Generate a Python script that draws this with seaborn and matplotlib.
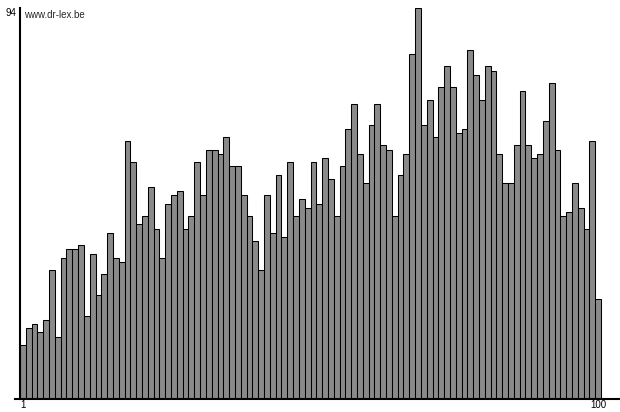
import matplotlib
matplotlib.use("Agg")
import matplotlib.pyplot as plt
import pandas as pd
import seaborn as sns

# bar heights, left to right (100 bars)
values = [13, 17, 18, 16, 19, 31, 15, 34, 36, 36,
          37, 20, 35, 25, 30, 40, 34, 33, 62, 57,
          42, 44, 51, 41, 34, 47, 49, 50, 41, 44,
          57, 49, 60, 60, 59, 63, 56, 56, 49, 44,
          38, 31, 49, 40, 54, 39, 57, 44, 48, 46,
          57, 47, 58, 53, 44, 56, 65, 71, 59, 52,
          66, 71, 61, 60, 44, 54, 59, 83, 94, 66,
          72, 63, 75, 80, 75, 64, 65, 84, 78, 72,
          80, 79, 59, 52, 52, 61, 74, 61, 58, 59,
          67, 76, 60, 44, 45, 52, 46, 41, 62, 24]
categories = [str(i) for i in range(1, len(values) + 1)]
x_tick_labels = ["1", "100"]
y_max = 94
watermark = "www.dr-lex.be"

sns.set_style("white")
plt.rcParams["font.family"] = ["Liberation Sans", "DejaVu Sans"]

df = pd.DataFrame({"n": categories, "count": values})

W, H = 620, 412
fig = plt.figure(figsize=(W / 100, H / 100), dpi=100)
# axes placed in pixels: left 15, right 620, baseline at y=399, top at y=8
ax = fig.add_axes([15 / W, (H - 399) / H, (W - 15) / W, (399 - 8.3) / H])

sns.barplot(data=df, x="n", y="count", color="#8a8a8a", saturation=1,
            width=1.0, edgecolor="black", linewidth=0.75, ax=ax)

ax.set_xlim(-0.5 - 5 / 5.81, 99.5 + 19 / 5.81)
ax.set_ylim(0, y_max)

for side in ["top", "right"]:
    ax.spines[side].set_visible(False)
ax.spines["left"].set_position(("data", -0.5))
ax.spines["left"].set_bounds(0, y_max)
ax.spines["left"].set_linewidth(1.5)
ax.spines["bottom"].set_linewidth(1.5)
ax.spines["left"].set_color("black")
ax.spines["bottom"].set_color("black")

ax.set_xticks([0, len(values) - 1])
ax.set_xticklabels(x_tick_labels)
ax.set_yticks([y_max])
ax.set_yticklabels([str(y_max)], va="top")
ax.tick_params(axis="x", length=0, pad=1, labelsize=7, colors="black")
ax.tick_params(axis="y", length=2.2, width=1, pad=0.5, labelsize=7,
               colors="black", direction="out")
ax.set_xlabel("")
ax.set_ylabel("")

fig.text(24 / W, 1 - 14.5 / H, watermark, fontsize=7, va="center", ha="left")

fig.savefig("out.png", dpi=100)
